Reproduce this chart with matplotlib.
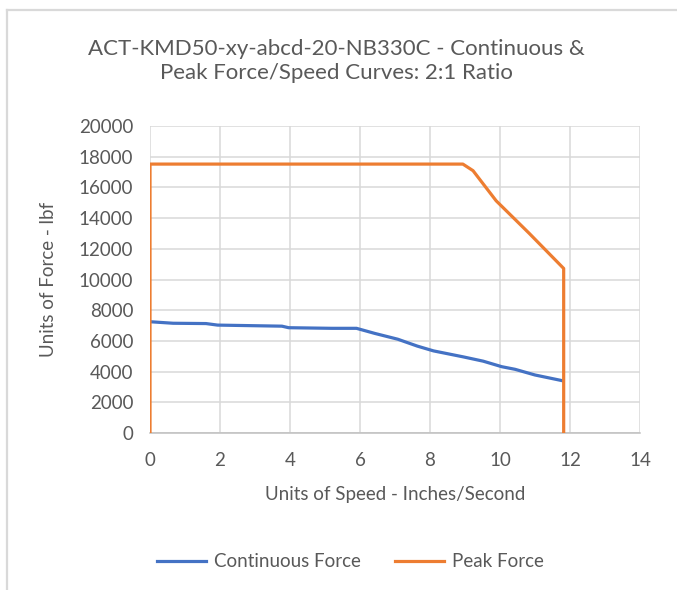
import matplotlib.pyplot as plt
from matplotlib.lines import Line2D

plt.rcParams['font.family'] = ['Lato', 'DejaVu Sans']

# continuous force curve
cont_speed = [0, 0.66, 1.6, 1.93, 3.77, 3.96, 5.2, 5.9, 6.42, 7.08, 7.64, 8.1,
              8.95, 9.52, 10.05, 10.43, 11.0, 11.8]
cont_force = [7250, 7150, 7130, 7030, 6960, 6860, 6820, 6820, 6490, 6110, 5660, 5350,
              4960, 4680, 4320, 4150, 3780, 3400]

# peak force curve
peak_speed = [0, 0, 8.94, 9.23, 9.89, 10.83, 11.82, 11.82]
peak_force = [0, 17520, 17520, 17090, 15130, 13020, 10720, 0]

title = "ACT-KMD50-xy-abcd-20-NB330C - Continuous &\nPeak Force/Speed Curves: 2:1 Ratio"
txt = '#595959'

fig = plt.figure(figsize=(6.77, 5.9), dpi=100)
ax = fig.add_axes([0.2216, 0.2661, 0.7237, 0.5203])

ax.plot(cont_speed, cont_force, color='#4472C4', lw=2.3, label='Continuous Force',
        solid_joinstyle='round', zorder=3)
ax.plot(peak_speed, peak_force, color='#ED7D31', lw=2.3, label='Peak Force',
        solid_joinstyle='round', zorder=3)

ax.set_xlim(0, 14)
ax.set_ylim(0, 20000)
ax.set_xticks(range(0, 15, 2))
ax.set_yticks(range(0, 20001, 2000))
ax.grid(True, color='#d9d9d9', lw=1.1)
ax.set_axisbelow(True)
for s in ['top', 'right', 'left']:
    ax.spines[s].set_visible(False)
ax.spines['bottom'].set_color('#bfbfbf')
ax.spines['bottom'].set_linewidth(1.1)
ax.tick_params(length=0, labelsize=13.5, labelcolor=txt)
ax.tick_params(axis='y', pad=12)
ax.tick_params(axis='x', pad=14)

ax.set_xlabel("Units of Speed - Inches/Second", fontsize=13.5, color=txt, va='center')
ax.set_ylabel("Units of Force - lbf", fontsize=13.5, color=txt, va='center')
ax.xaxis.set_label_coords(0.5, -0.199)
ax.yaxis.set_label_coords(-0.208, 0.5)

fig.text(0.497, 0.897, title, ha='center', va='center', fontsize=16, color=txt,
         linespacing=1.25)

fig.legend(loc='center', bbox_to_anchor=(0.518, 0.048), ncol=2, frameon=False,
           fontsize=13.5, labelcolor=txt, handlelength=2.6, columnspacing=1.8,
           handletextpad=0.45)

# chart border
fig.add_artist(Line2D([0.011, 0.011], [0, 0.983], color='#d9d9d9', lw=1.6))
fig.add_artist(Line2D([0.011, 1], [0.983, 0.983], color='#d9d9d9', lw=1.6))

fig.savefig("out.png", dpi=100)
